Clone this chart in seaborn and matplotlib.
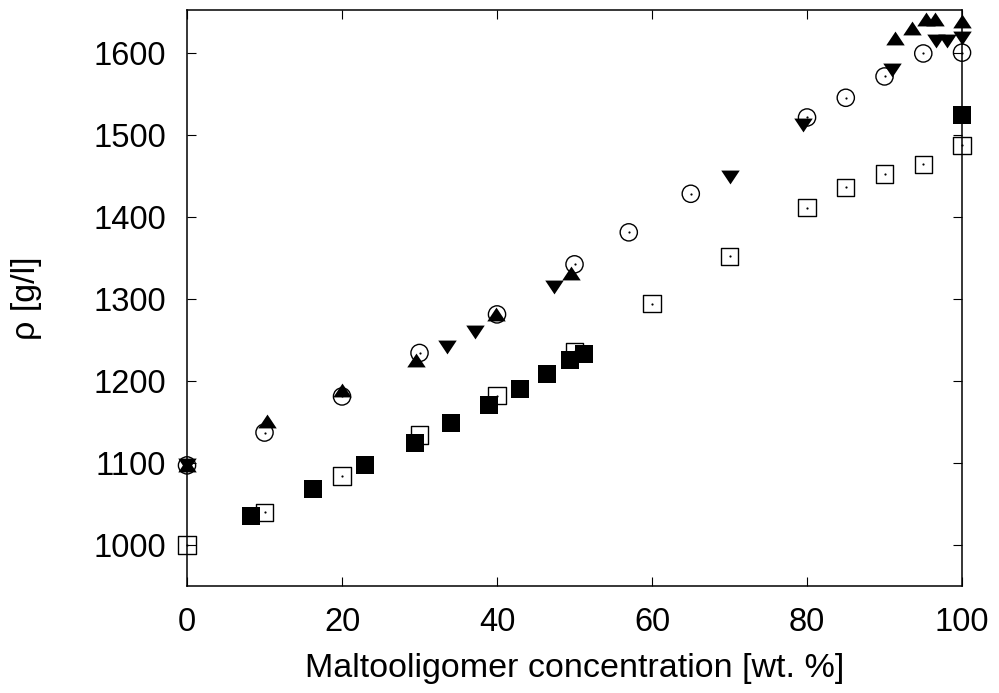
import numpy as np
import pandas as pd
import matplotlib
matplotlib.use("Agg")
import matplotlib.pyplot as plt
from matplotlib.path import Path
import seaborn as sns

# ---- data ----
circ_x = [0, 10, 20, 30, 40, 50, 57, 65, 80, 85, 90, 95, 100]
circ_y = [1097, 1137, 1181, 1234, 1281, 1342, 1381, 1428, 1521, 1545, 1571, 1599, 1600]

open_sq_x = [0, 10, 20, 30, 40, 50, 60, 70, 80, 85, 90, 95, 100]
open_sq_y = [1000, 1040, 1084, 1134, 1182, 1236, 1294, 1352, 1411, 1436, 1452, 1464, 1487]

fill_sq_x = [8.3, 16.2, 23.0, 29.4, 34.1, 39.0, 43.0, 46.5, 49.4, 51.2, 100]
fill_sq_y = [1035, 1068, 1098, 1124, 1149, 1171, 1190, 1208, 1226, 1233, 1524]

up_x = [0, 10.3, 20, 29.6, 39.9, 49.6, 91.4, 93.5, 95.4, 96.5, 100]
up_y = [1097, 1151, 1189, 1225, 1281, 1332, 1618, 1630, 1641, 1641, 1638]

down_x = [0, 33.5, 37.2, 47.3, 70, 79.5, 91, 96.6, 98.1, 100]
down_y = [1097, 1241, 1260, 1314, 1449, 1512, 1579, 1614, 1614, 1618]

x_ticks = [0, 20, 40, 60, 80, 100]
y_ticks = [1000, 1100, 1200, 1300, 1400, 1500, 1600]

# ---- style ----
sns.set_style("ticks")
plt.rcParams["font.family"] = ["Liberation Sans", "DejaVu Sans"]

fig = plt.figure(figsize=(9.99, 6.93), dpi=100)
ax = fig.add_axes([0.1872, 0.1544, 0.9630 - 0.1872, 0.9856 - 0.1544])

up_marker = Path([(-1, -0.75), (1, -0.75), (0, 0.75), (-1, -0.75)],
                 [Path.MOVETO, Path.LINETO, Path.LINETO, Path.CLOSEPOLY])
down_marker = Path([(-1, 0.75), (1, 0.75), (0, -0.75), (-1, 0.75)],
                   [Path.MOVETO, Path.LINETO, Path.LINETO, Path.CLOSEPOLY])

ms = 12.4
tri = 13.3
# open squares
sns.scatterplot(x=open_sq_x, y=open_sq_y, ax=ax, marker="s", s=ms**2,
                facecolor="none", edgecolor="black", linewidth=1.0, clip_on=False, zorder=3)
sns.scatterplot(x=open_sq_x, y=open_sq_y, ax=ax, marker="o", s=2.5,
                color="black", linewidth=0, clip_on=False, zorder=3)
# circles
sns.scatterplot(x=circ_x, y=circ_y, ax=ax, marker="o", s=ms**2,
                facecolor="none", edgecolor="black", linewidth=1.0, clip_on=False, zorder=3)
sns.scatterplot(x=circ_x, y=circ_y, ax=ax, marker="o", s=2.5,
                color="black", linewidth=0, clip_on=False, zorder=3)
# filled squares
sns.scatterplot(x=fill_sq_x, y=fill_sq_y, ax=ax, marker="s", s=12.7**2,
                color="black", linewidth=0, clip_on=False, zorder=4)
# up triangles
sns.scatterplot(x=up_x, y=up_y, ax=ax, marker=up_marker, s=tri**2,
                color="black", linewidth=0, clip_on=False, zorder=4)
# down triangles
sns.scatterplot(x=down_x, y=down_y, ax=ax, marker=down_marker, s=tri**2,
                color="black", linewidth=0, clip_on=False, zorder=4)

ax.set_xlim(0, 100)
ax.set_ylim(950, 1652)
ax.set_xticks(x_ticks)
ax.set_yticks(y_ticks)
ax.set_xticklabels([str(v) for v in x_ticks])
ax.set_yticklabels([str(v) for v in y_ticks])

for side in ["left", "right", "top", "bottom"]:
    ax.spines[side].set_visible(True)
    ax.spines[side].set_linewidth(1.1)
    ax.spines[side].set_color("black")

ax.tick_params(axis="both", which="major", direction="in", length=6.5, width=0.8,
               color="black", labelsize=23.5, labelcolor="black",
               top=True, right=True, pad=15)
ax.tick_params(axis="x", pad=15)

ax.set_xlabel("Maltooligomer concentration [wt. %]", fontsize=24.5, labelpad=11, color="black")
ax.set_ylabel("ρ [g/l]", fontsize=24.5, labelpad=37, color="black")

fig.savefig("out.png", dpi=100, facecolor="white")
